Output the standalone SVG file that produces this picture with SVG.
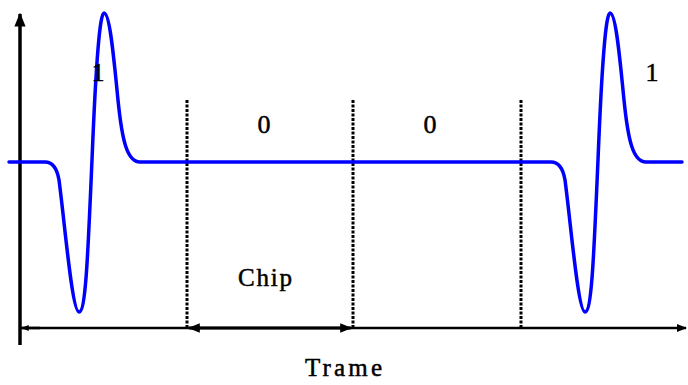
<svg xmlns="http://www.w3.org/2000/svg" width="688" height="385" viewBox="0 0 688 385">
<defs>
<marker id="ah" viewBox="0 0 10 10" refX="9" refY="5" markerWidth="4" markerHeight="4" orient="auto-start-reverse" markerUnits="strokeWidth">
<path d="M0,1 L10,5 L0,9 Z" fill="#000"/>
</marker>
<marker id="ahs" viewBox="0 0 10 10" refX="9" refY="5" markerWidth="3" markerHeight="3" orient="auto-start-reverse" markerUnits="strokeWidth">
<path d="M0,1 L10,5 L0,9 Z" fill="#000"/>
</marker>
<style>
.txt{font-family:"Liberation Serif","Times New Roman",serif;fill:#000;stroke:#000;stroke-width:0.5;}
.dash{stroke:#000;stroke-width:3;stroke-dasharray:3 1.5;fill:none;}
.ax{stroke:#000;fill:none;}
.wave{stroke:#0000ff;stroke-width:3.5;fill:none;stroke-linejoin:round;stroke-linecap:round;}
</style>
</defs>
<rect width="688" height="385" fill="#fff"/>
<g id="axes">
<line class="ax" x1="20" y1="345" x2="20" y2="14" stroke-width="3.5" marker-end="url(#ah)"/>
<line class="ax" x1="20" y1="328" x2="686" y2="328" stroke-width="2.5" marker-end="url(#ah)"/>
</g>
<g id="connectors">
<line class="ax" x1="22" y1="328" x2="40" y2="328" stroke-width="2.5" marker-start="url(#ahs)"/>
<line class="ax" x1="189" y1="328" x2="351" y2="328" stroke-width="3" marker-start="url(#ah)" marker-end="url(#ah)"/>
<line class="dash" x1="187" y1="100" x2="187" y2="328"/>
<line class="dash" x1="353" y1="100" x2="353" y2="328"/>
<line class="dash" x1="521" y1="100" x2="521" y2="328"/>
</g>
<g id="signal">
<path class="wave" d="M9,162 L45,162 C53,162 57,168 59,180 C65,225 72,312 79,312 C86,312 88,250 92,160 C96,60 100,13 104,13 C110,13 114,60 118,100 C122,140 127,162 140,162 L551,162 C559,162 563,168 565,180 C571,225 578,312 585,312 C592,312 594,250 598,160 C602,60 606,13 610,13 C616,13 620,60 624,100 C628,140 633,162 646,162 L682,162"/>
</g>
<g id="labels">
<text class="txt" x="98" y="81" font-size="26" text-anchor="middle">1</text>
<text class="txt" x="264" y="133" font-size="26" text-anchor="middle">0</text>
<text class="txt" x="430" y="133" font-size="26" text-anchor="middle">0</text>
<text class="txt" x="652" y="81" font-size="26" text-anchor="middle">1</text>
<text class="txt" x="238" y="286" font-size="25" textLength="54" lengthAdjust="spacing">Chip</text>
<text class="txt" x="305" y="376" font-size="25" textLength="77" lengthAdjust="spacing">Trame</text>
</g>
</svg>
